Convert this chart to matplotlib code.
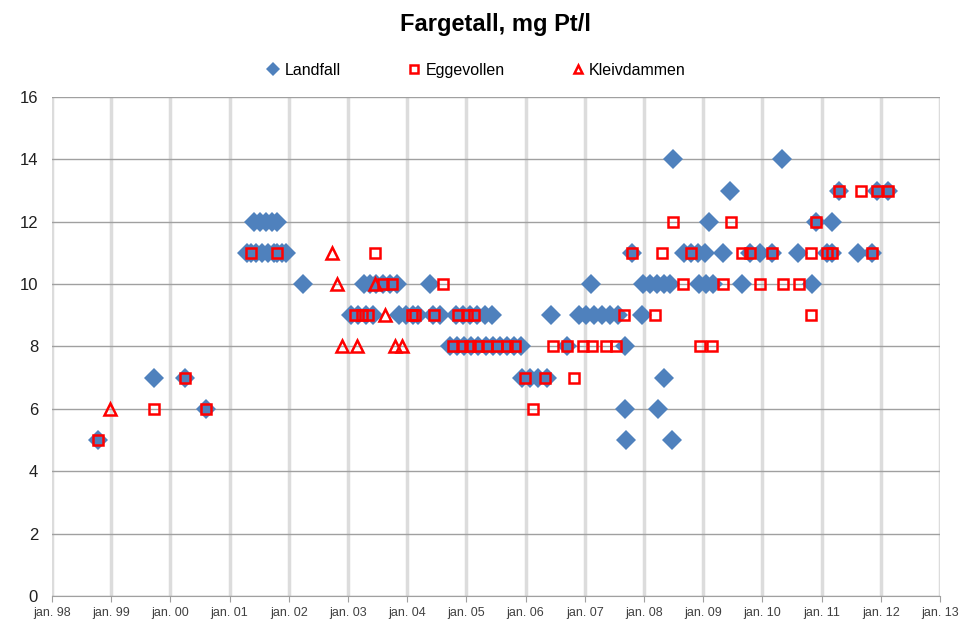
import numpy as np
import matplotlib
matplotlib.use('Agg')
import matplotlib.pyplot as plt

plt.rcParams['font.family'] = ['Liberation Sans Narrow', 'Liberation Sans', 'DejaVu Sans']

# decimal years, values in mg Pt/l
landfall_t = [1998.78, 1999.72, 2000.25, 2000.60,
              2001.41, 2001.51, 2001.61, 2001.72, 2001.80,
              2001.29, 2001.36, 2001.45, 2001.55, 2001.65, 2001.75, 2001.80, 2001.89, 2001.95,
              2002.24,
              2003.27, 2003.37, 2003.47, 2003.59, 2003.71, 2003.83, 2004.39,
              2003.05, 2003.17, 2003.30, 2003.42, 2003.86, 2003.98, 2004.10, 2004.18,
              2004.44, 2004.55, 2004.82, 2004.94, 2005.06, 2005.18, 2005.31, 2005.43,
              2004.72, 2004.84, 2004.96, 2005.08, 2005.20, 2005.33, 2005.45, 2005.57,
              2005.69, 2005.80, 2005.92,
              2006.43, 2005.94, 2006.07, 2006.21, 2006.36, 2006.70, 2007.68,
              2007.10, 2006.90, 2007.02, 2007.16, 2007.29, 2007.43, 2007.56, 2007.97,
              2007.68, 2008.24, 2007.70, 2008.47, 2008.34,
              2008.49, 2010.33,
              2007.98, 2008.10, 2008.22, 2008.34, 2008.44, 2008.93, 2009.05, 2009.17,
              2009.66, 2010.84,
              2007.80, 2008.68, 2008.79, 2008.91, 2009.03, 2009.33, 2009.79, 2009.96,
              2010.16, 2010.60, 2011.09, 2011.18, 2011.61, 2011.85,
              2009.10, 2010.91, 2011.18,
              2009.45, 2011.29, 2011.94, 2012.12]
landfall_v = [5, 7, 7, 6,
              12, 12, 12, 12, 12,
              11, 11, 11, 11, 11, 11, 11, 11, 11,
              10,
              10, 10, 10, 10, 10, 10, 10,
              9, 9, 9, 9, 9, 9, 9, 9,
              9, 9, 9, 9, 9, 9, 9, 9,
              8, 8, 8, 8, 8, 8, 8, 8,
              8, 8, 8,
              9, 7, 7, 7, 7, 8, 8,
              10, 9, 9, 9, 9, 9, 9, 9,
              6, 6, 5, 5, 7,
              14, 14,
              10, 10, 10, 10, 10, 10, 10, 10,
              10, 10,
              11, 11, 11, 11, 11, 11, 11, 11,
              11, 11, 11, 11, 11, 11,
              12, 12, 12,
              13, 13, 13, 13]

egge_t = [1998.78, 1999.72, 2000.25, 2000.60,
          2001.36, 2001.80, 2003.46,
          2003.59, 2003.74, 2004.60,
          2003.12, 2003.24, 2003.34, 2004.08, 2004.13, 2004.45, 2004.86, 2005.01, 2005.13,
          2004.77, 2004.93, 2005.06, 2005.20, 2005.35, 2005.52, 2005.69, 2005.82,
          2005.99, 2006.33, 2006.82, 2006.13,
          2006.46, 2006.70, 2006.97, 2007.12, 2007.36, 2007.53,
          2007.66, 2008.19,
          2008.66, 2009.33, 2009.96, 2010.35, 2010.62,
          2007.80, 2008.30, 2008.79, 2009.66, 2009.79, 2010.16, 2010.82, 2011.09, 2011.18,
          2011.85,
          2008.49, 2009.47, 2010.91,
          2011.29, 2011.67, 2011.94, 2012.12,
          2008.95, 2009.15, 2010.82]
egge_v = [5, 6, 7, 6,
          11, 11, 11,
          10, 10, 10,
          9, 9, 9, 9, 9, 9, 9, 9, 9,
          8, 8, 8, 8, 8, 8, 8, 8,
          7, 7, 7, 6,
          8, 8, 8, 8, 8, 8,
          9, 9,
          10, 10, 10, 10, 10,
          11, 11, 11, 11, 11, 11, 11, 11, 11,
          11,
          12, 12, 12,
          13, 13, 13, 13,
          8, 8, 9]

kleiv_t = [1998.98, 2002.73, 2002.81, 2002.90, 2003.15, 2003.46, 2003.63, 2003.79, 2003.91]
kleiv_v = [6, 11, 10, 8, 8, 10, 9, 8, 8]

years = list(range(1998, 2014))
year_labels = ['jan. %02d' % (y % 100) for y in years]

blue = '#4F81BD'
red = '#FF0000'

fig = plt.figure(figsize=(9.66, 6.28), dpi=100)
ax = fig.add_axes([0.0538, 0.051, 0.9192, 0.7945])

ax.plot(landfall_t, landfall_v, linestyle='none', marker='D', markersize=10,
        color=blue, markeredgewidth=0, label='Landfall')
ax.plot(egge_t, egge_v, linestyle='none', marker='s', markersize=7.5,
        markerfacecolor='none', markeredgecolor=red, markeredgewidth=1.8, label='Eggevollen')
ax.plot(kleiv_t, kleiv_v, linestyle='none', marker='^', markersize=8,
        markerfacecolor='none', markeredgecolor=red, markeredgewidth=1.8, label='Kleivdammen')

ax.set_xlim(1998, 2013)
ax.set_ylim(0, 16)
ax.set_xticks(years)
ax.set_xticklabels(year_labels, fontsize=9, color='#404040')
ax.set_yticks(range(0, 17, 2))
ax.tick_params(axis='y', length=0, labelsize=12, colors='#202020', pad=10)
ax.tick_params(axis='x', length=4, color='#a0a0a0', pad=4)

ax.grid(axis='x', color='#dcdcdc', linewidth=2.5, zorder=0)
ax.grid(axis='y', color='#a0a0a0', linewidth=1, zorder=0)
ax.set_axisbelow(True)
for side in ['left', 'right', 'top']:
    ax.spines[side].set_visible(False)
ax.spines['bottom'].set_color('#a0a0a0')

fig.suptitle('Fargetall, mg Pt/l', x=0.513, y=0.98, fontsize=17, fontweight='bold')
ax.legend(loc='lower center', bbox_to_anchor=(0.478, 1.01), ncol=3, frameon=False,
          fontsize=11.5, handletextpad=0.3, columnspacing=4.2, handlelength=0.8,
          markerscale=0.7)

fig.savefig('out.png', dpi=100)
